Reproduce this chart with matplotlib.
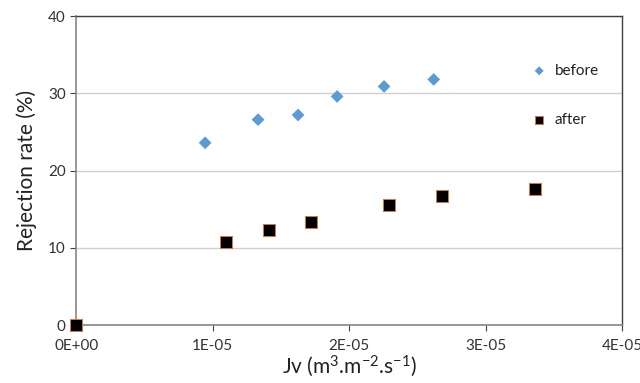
import matplotlib
matplotlib.use("Agg")
import matplotlib.pyplot as plt

plt.rcParams['font.family'] = ['Lato', 'DejaVu Sans']
plt.rcParams['mathtext.fontset'] = 'custom'
plt.rcParams['mathtext.rm'] = 'Lato'
plt.rcParams['mathtext.it'] = 'Lato:italic'

before_x = [0.0, 0.945e-5, 1.333e-5, 1.626e-5, 1.912e-5, 2.256e-5, 2.62e-5]
before_y = [0.0, 23.6, 26.6, 27.2, 29.6, 30.9, 31.8]
after_x = [0.0, 1.10e-5, 1.41e-5, 1.72e-5, 2.29e-5, 2.68e-5, 3.36e-5]
after_y = [0.0, 10.8, 12.3, 13.4, 15.5, 16.7, 17.6]
x_ticks = [0, 1e-5, 2e-5, 3e-5, 4e-5]
x_tick_labels = ["0E+00", "1E-05", "2E-05", "3E-05", "4E-05"]
y_ticks = [0, 10, 20, 30, 40]

fig = plt.figure(figsize=(6.4, 3.83), dpi=100)
ax = fig.add_axes([0.119, 0.151, 0.853, 0.807])

ax.scatter(before_x, before_y, marker='D', s=42, color='#5B9BD5', edgecolors='none',
           label='before', zorder=3, clip_on=False)
ax.scatter(after_x, after_y, marker='s', s=70, color='black', edgecolors='#D9773A',
           linewidths=0.7, label='after', zorder=4, clip_on=False)

ax.set_xlim(0, 4e-5)
ax.set_ylim(0, 40)
ax.set_xticks(x_ticks)
ax.set_xticklabels(x_tick_labels)
ax.set_yticks(y_ticks)
ax.yaxis.grid(True, color='#D0D0D0', linewidth=1)
ax.set_axisbelow(True)

for s in ['left', 'bottom']:
    ax.spines[s].set_color('#868686')
    ax.spines[s].set_linewidth(1.2)
for s in ['top', 'right']:
    ax.spines[s].set_color('#404040')
    ax.spines[s].set_linewidth(1.0)

ax.tick_params(axis='both', labelsize=11, colors='#404040', labelcolor='#333333', length=4, width=0.8)
ax.tick_params(axis='x', pad=6)

ax.set_xlabel("Jv (m$^{3}$.m$^{-2}$.s$^{-1}$)", fontsize=15, color='#222222', labelpad=0)
ax.set_ylabel("Rejection rate (%)", fontsize=15, color='#222222', labelpad=8)

leg = ax.legend(loc='upper left', bbox_to_anchor=(0.795, 0.89), frameon=False,
                fontsize=11, handletextpad=0.0, labelspacing=2.3, markerscale=0.7,
                scatterpoints=1)
for t in leg.get_texts():
    t.set_color('#222222')

fig.savefig("out.png", dpi=100)
